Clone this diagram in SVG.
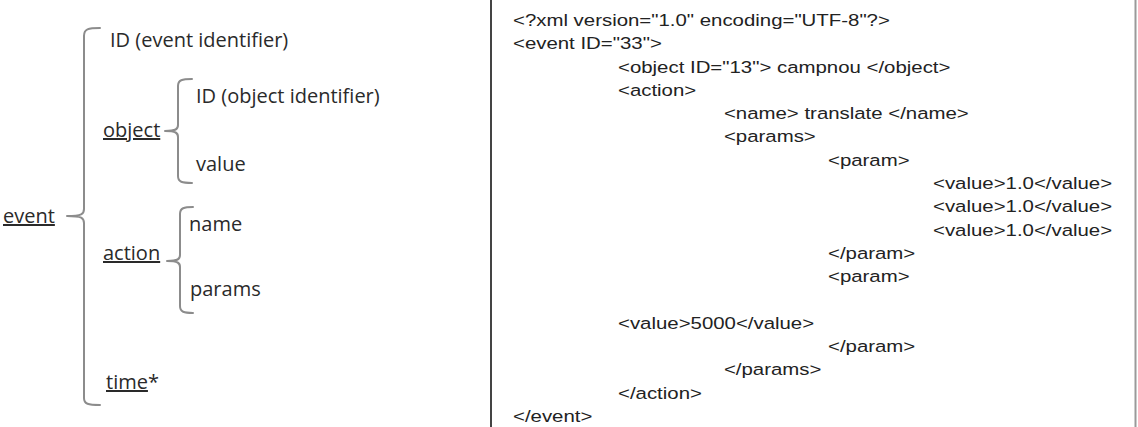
<svg xmlns="http://www.w3.org/2000/svg" width="1138" height="427" viewBox="0 0 1138 427">
<style>
.t{font-family:"Open Sans","Noto Sans",sans-serif;font-size:20px;fill:#2a2a2a}
.u{text-decoration:underline}
.br{fill:none;stroke:#8c8c8c;stroke-width:2;stroke-linecap:round;stroke-linejoin:round}
.c{font-family:"Liberation Sans",Arial,sans-serif;font-size:17px;fill:#222}
</style>
<rect width="1138" height="427" fill="#fff"/>
<g id="connectors">
<path class="br" d="M100,28 C88,28 84,29 84,36 L84,209 C84,214 82,216 67,216 M67,216 C82,216 84,218 84,223 L84,398 C84,404 88,405 100,405"/>
<path class="br" d="M192,79 C182,79 178,80 178,86 L178,125 C178,129 176,131 165,131 M165,131 C176,131 178,133 178,137 L178,176 C178,182 182,183 192,183"/>
<path class="br" d="M193,207 C184,207 180,208 180,214 L180,255 C180,259 178,261 167,261 M167,261 C178,261 180,263 180,267 L180,306 C180,312 184,313 193,313"/>
</g>
<g id="event"><text class="t" x="3" y="223"><tspan class="u">event</tspan></text></g>
<g id="event-id"><text class="t" x="110" y="47">ID (event identifier)</text></g>
<g id="object"><text class="t" x="103" y="137"><tspan class="u">object</tspan></text></g>
<g id="object-id"><text class="t" x="196" y="103">ID (object identifier)</text></g>
<g id="object-value"><text class="t" x="196" y="171">value</text></g>
<g id="action"><text class="t" x="103" y="260"><tspan class="u">action</tspan></text></g>
<g id="action-name"><text class="t" x="189" y="231">name</text></g>
<g id="action-params"><text class="t" x="190" y="296">params</text></g>
<g id="time"><text class="t" x="106" y="389"><tspan class="u">time</tspan>*</text></g>
<g id="code-panel">
<line x1="491" y1="0" x2="491" y2="427" stroke="#444" stroke-width="2"/>
<line x1="1135.5" y1="0" x2="1135.5" y2="427" stroke="#9a9a9a" stroke-width="2"/>
<g transform="scale(1.2,1)">
<text class="c" x="427.5" y="26">&lt;?xml version="1.0" encoding="UTF-8"?&gt;</text>
<text class="c" x="427.5" y="49.3">&lt;event ID="33"&gt;</text>
<text class="c" x="515" y="72.6">&lt;object ID="13"&gt; campnou &lt;/object&gt;</text>
<text class="c" x="515" y="95.9">&lt;action&gt;</text>
<text class="c" x="603.3" y="119.2">&lt;name&gt; translate &lt;/name&gt;</text>
<text class="c" x="603.3" y="142.5">&lt;params&gt;</text>
<text class="c" x="690" y="165.8">&lt;param&gt;</text>
<text class="c" x="777.5" y="189.1">&lt;value&gt;1.0&lt;/value&gt;</text>
<text class="c" x="777.5" y="212.4">&lt;value&gt;1.0&lt;/value&gt;</text>
<text class="c" x="777.5" y="235.7">&lt;value&gt;1.0&lt;/value&gt;</text>
<text class="c" x="690" y="259">&lt;/param&gt;</text>
<text class="c" x="690" y="282.3">&lt;param&gt;</text>
<text class="c" x="515" y="328.9">&lt;value&gt;5000&lt;/value&gt;</text>
<text class="c" x="690" y="352.2">&lt;/param&gt;</text>
<text class="c" x="603.3" y="375.5">&lt;/params&gt;</text>
<text class="c" x="515" y="398.8">&lt;/action&gt;</text>
<text class="c" x="427.5" y="422.1">&lt;/event&gt;</text>
</g>
</g>
</svg>
